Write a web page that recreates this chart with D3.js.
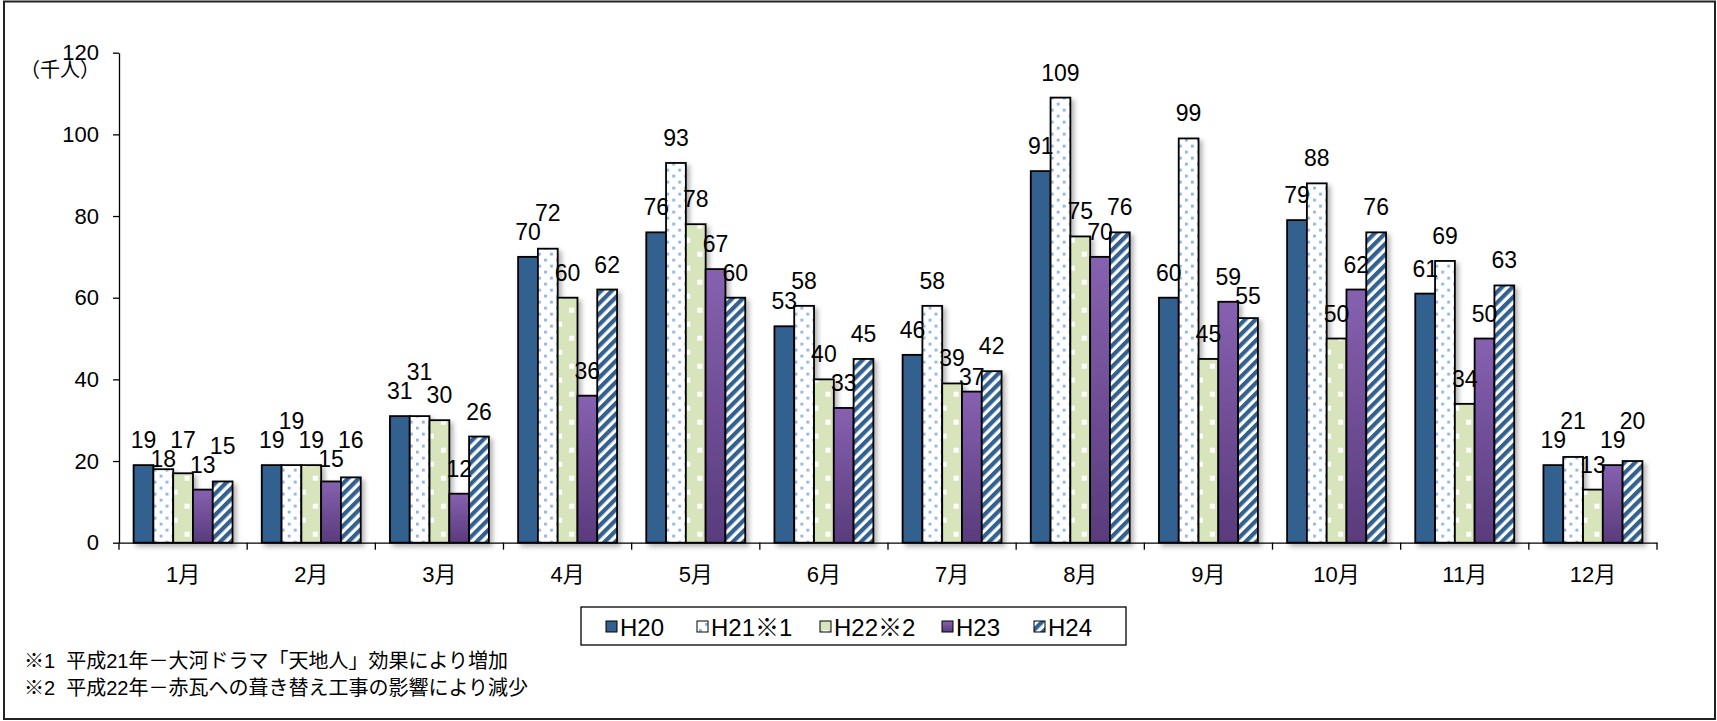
<!DOCTYPE html>
<html>
<head>
<meta charset="utf-8">
<script src="https://cdn.jsdelivr.net/npm/d3@7"></script>
<style>
  body { margin: 0; background: #fff; }
  svg text { font-family: "Liberation Sans", "Noto Sans CJK JP", sans-serif; fill: #000; }
</style>
</head>
<body>
<div class="chart"></div>
<script>
// data (thousand people per month)
var months = ["1月", "2月", "3月", "4月", "5月", "6月", "7月", "8月", "9月", "10月", "11月", "12月"];
var seriesNames = ["H20", "H21※1", "H22※2", "H23", "H24"];
var h20 = [19, 19, 31, 70, 76, 53, 46, 91, 60, 79, 61, 19];
var h21 = [18, 19, 31, 72, 93, 58, 58, 109, 99, 88, 69, 21];
var h22 = [17, 19, 30, 60, 78, 40, 39, 75, 45, 50, 34, 13];
var h23 = [13, 15, 12, 36, 67, 33, 37, 70, 59, 62, 50, 19];
var h24 = [15, 16, 26, 62, 60, 45, 42, 76, 55, 76, 63, 20];
var yTicks = [0, 20, 40, 60, 80, 100, 120];
var unitLabel = "（千人）";
var notes = [
  "※1  平成21年－大河ドラマ「天地人」効果により増加",
  "※2  平成22年－赤瓦への葺き替え工事の影響により減少"
];

var seriesValues = [h20, h21, h22, h23, h24];

// Set up our chart
var svgWidth = 1717;
var svgHeight = 721;
var margin = { top: 52.7, right: 60, bottom: 178.3, left: 119 };
var width = svgWidth - margin.left - margin.right;
var height = svgHeight - margin.top - margin.bottom;

var svg = d3.select(".chart")
  .append("svg")
  .attr("width", svgWidth)
  .attr("height", svgHeight);

// fills: solid, dotted, confetti, gradient, stripes
var defs = svg.append("defs");

var dots = defs.append("pattern").attr("id", "dots")
  .attr("patternUnits", "userSpaceOnUse").attr("width", 12).attr("height", 12);
dots.append("rect").attr("width", 12).attr("height", 12).attr("fill", "#fff");
dots.append("rect").attr("x", 2).attr("y", 2).attr("width", 2.8).attr("height", 2.8).attr("fill", "#8db4e2");
dots.append("rect").attr("x", 8).attr("y", 8).attr("width", 2.8).attr("height", 2.8).attr("fill", "#8db4e2");

var confetti = defs.append("pattern").attr("id", "confetti")
  .attr("patternUnits", "userSpaceOnUse").attr("width", 24).attr("height", 28);
confetti.append("rect").attr("width", 24).attr("height", 28).attr("fill", "#d8e4bc");
confetti.append("rect").attr("x", 3).attr("y", 3).attr("width", 5).attr("height", 5).attr("fill", "#fff");
confetti.append("rect").attr("x", 15).attr("y", 17).attr("width", 5).attr("height", 5).attr("fill", "#fff");

var stripes = defs.append("pattern").attr("id", "stripes")
  .attr("patternUnits", "userSpaceOnUse").attr("width", 7.5).attr("height", 7.5)
  .attr("patternTransform", "rotate(45)");
stripes.append("rect").attr("width", 7.5).attr("height", 7.5).attr("fill", "#fff");
stripes.append("rect").attr("width", 4.2).attr("height", 7.5).attr("fill", "#33608f");

var grad = defs.append("linearGradient").attr("id", "purple")
  .attr("x1", 0).attr("y1", 0).attr("x2", 0).attr("y2", 1);
grad.append("stop").attr("offset", "0%").attr("stop-color", "#8661b0");
grad.append("stop").attr("offset", "100%").attr("stop-color", "#593b7c");

var shadow = defs.append("filter").attr("id", "shadow")
  .attr("x", "-10%").attr("y", "-10%").attr("width", "130%").attr("height", "130%");
shadow.append("feDropShadow").attr("dx", 3).attr("dy", 3).attr("stdDeviation", 2.5)
  .attr("flood-color", "#000").attr("flood-opacity", 0.3);

var fills = ["#33608f", "url(#dots)", "url(#confetti)", "url(#purple)", "url(#stripes)"];

// outer frame
svg.append("rect")
  .attr("x", 4).attr("y", 1.5)
  .attr("width", 1711).attr("height", 717.5)
  .attr("fill", "none").attr("stroke", "#222").attr("stroke-width", 2);

var chart = svg.append("g")
  .attr("transform", `translate(${margin.left},${margin.top})`);

// scales
var x0 = d3.scaleBand().domain(months).range([0, width])
  .paddingInner(0.228).paddingOuter(0.114);
var x1 = d3.scaleBand().domain(d3.range(seriesNames.length)).range([0, x0.bandwidth()]);
var y = d3.scaleLinear().domain([0, 120]).range([height, 0]);

// bars
var groups = chart.selectAll(".month")
  .data(months)
  .enter()
  .append("g")
  .attr("class", "month")
  .attr("filter", "url(#shadow)")
  .attr("transform", function (d) { return `translate(${x0(d)},0)`; });

groups.selectAll("rect")
  .data(function (d, mi) {
    return seriesValues.map(function (vals, si) { return { si: si, v: vals[mi] }; });
  })
  .enter()
  .append("rect")
  .attr("x", function (d) { return x1(d.si); })
  .attr("y", function (d) { return y(d.v); })
  .attr("width", x1.bandwidth())
  .attr("height", function (d) { return height - y(d.v); })
  .attr("fill", function (d) { return fills[d.si]; })
  .attr("stroke", "#000")
  .attr("stroke-width", 1.8);

// data labels, staggered when neighbours collide
var labels = [];
var lineH = 19;
months.forEach(function (m, mi) {
  var prev = null;
  seriesValues.forEach(function (vals, si) {
    var top = y(vals[mi]);
    var base = top - 17;
    if (prev !== null && Math.abs(base - prev) < lineH) {
      if (prev + lineH <= top - 1) base = prev + lineH;
      else base = prev - lineH;
    }
    labels.push({ x: x0(m) + x1(si) + x1.bandwidth() / 2, y: base, v: vals[mi] });
    prev = base;
  });
});

chart.selectAll(".dlabel")
  .data(labels)
  .enter()
  .append("text")
  .attr("class", "dlabel")
  .attr("x", function (d) { return d.x; })
  .attr("y", function (d) { return d.y; })
  .attr("text-anchor", "middle")
  .attr("font-size", "23px")
  .text(function (d) { return d.v; });

// y-axis
var yAxis = d3.axisLeft(y).tickValues(yTicks).tickSize(6).tickSizeOuter(0).tickPadding(14);
var yG = chart.append("g").attr("class", "y-axis").call(yAxis);
yG.selectAll("text").attr("font-size", "22px").attr("font-family", null);
yG.selectAll("path, line").attr("stroke", "#000").attr("stroke-width", 1.3);

// x-axis
var xAxis = d3.axisBottom(x0).tickSize(0).tickSizeOuter(0).tickPadding(24);
var xG = chart.append("g").attr("class", "x-axis")
  .attr("transform", `translate(0,${height})`).call(xAxis);
xG.selectAll("text").attr("font-size", "22px").attr("font-family", null);
xG.select("path").attr("stroke", "#000").attr("stroke-width", 1.3);

// category boundary ticks
xG.selectAll(".bound")
  .data(d3.range(months.length + 1))
  .enter()
  .append("line")
  .attr("class", "bound")
  .attr("x1", function (i) { return x0.range()[0] + i * x0.step(); })
  .attr("x2", function (i) { return x0.range()[0] + i * x0.step(); })
  .attr("y1", 0).attr("y2", 7)
  .attr("stroke", "#000").attr("stroke-width", 1.3);

// unit label
svg.append("text")
  .attr("x", 60).attr("y", 77)
  .attr("text-anchor", "middle")
  .attr("font-size", "20px")
  .text(unitLabel);

// legend
var legend = svg.append("g").attr("class", "legend");
legend.append("rect")
  .attr("x", 581).attr("y", 607)
  .attr("width", 545).attr("height", 38)
  .attr("fill", "#fff").attr("stroke", "#000").attr("stroke-width", 1.3);

var legendX = [606, 697, 820, 942, 1034];
var items = legend.selectAll(".item")
  .data(seriesNames)
  .enter()
  .append("g")
  .attr("class", "item")
  .attr("transform", function (d, i) { return `translate(${legendX[i]},627)`; });

items.append("rect")
  .attr("x", 0).attr("y", -6)
  .attr("width", 11).attr("height", 11)
  .attr("fill", function (d, i) { return fills[i]; })
  .attr("stroke", "#000").attr("stroke-width", 1);

items.append("text")
  .attr("x", 14).attr("y", 8.5)
  .attr("font-size", "24px")
  .text(function (d) { return d; });

// footnotes
svg.selectAll(".note")
  .data(notes)
  .enter()
  .append("text")
  .attr("class", "note")
  .attr("x", 24)
  .attr("y", function (d, i) { return 668 + i * 27; })
  .attr("font-size", "20px")
  .style("white-space", "pre")
  .text(function (d) { return d; });
</script>
</body>
</html>
